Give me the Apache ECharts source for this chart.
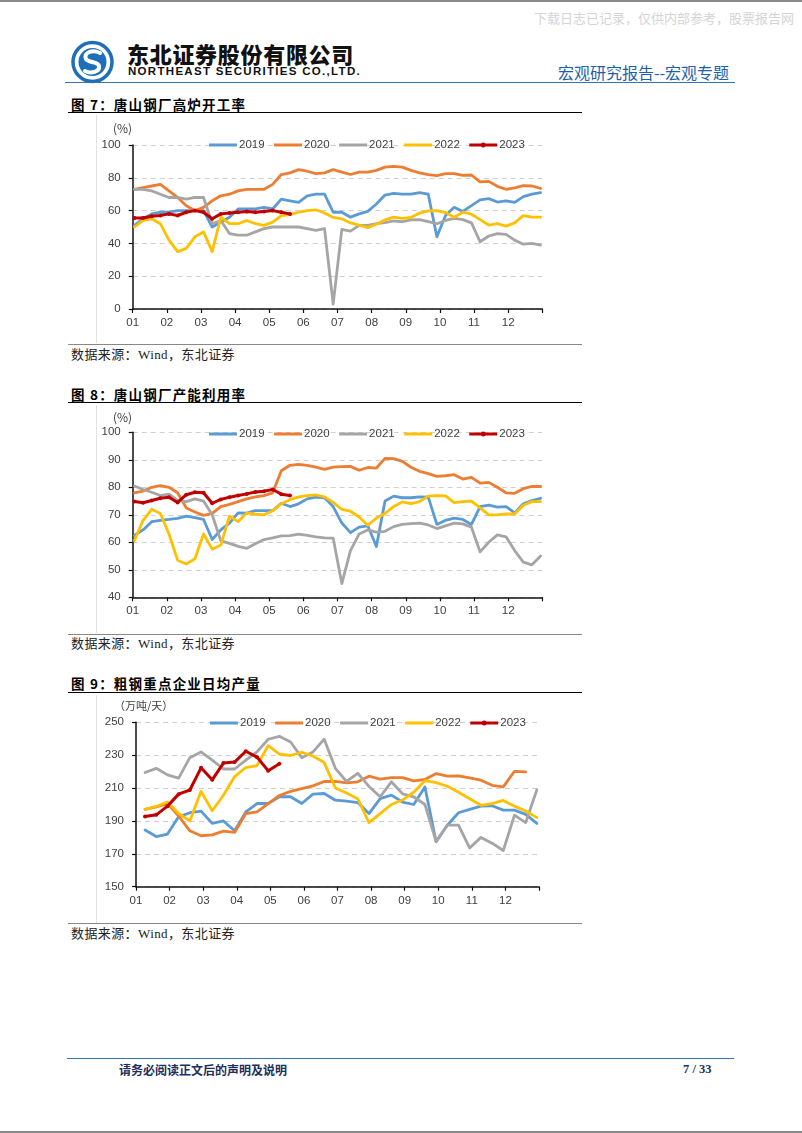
<!DOCTYPE html>
<html><head><meta charset="utf-8">
<script src="https://cdn.jsdelivr.net/npm/echarts@6/dist/echarts.min.js"></script>
<style>
html,body{margin:0;padding:0;background:#fff;}
body{width:802px;height:1133px;position:relative;overflow:hidden;font-family:"Noto Sans CJK SC","Liberation Sans",sans-serif;}
.abs{position:absolute;white-space:nowrap;}
.hline{position:absolute;height:0;}
.title{font-size:13.5px;font-weight:bold;color:#000;letter-spacing:1.2px;line-height:16px;}
.src{font-size:13px;color:#222;font-family:"Liberation Serif","Noto Sans CJK SC",serif;line-height:16px;letter-spacing:0.4px;}
.chart{position:absolute;left:0;width:802px;height:228px;}
</style></head>
<body>
<div class="hline" style="left:0;top:0;width:802px;border-top:2px solid #8a8a8a;"></div>
<div class="abs" style="left:534px;top:8px;font-size:13px;color:#d4d4d4;">下载日志已记录，仅供内部参考，股票报告网</div>
<svg class="abs" style="left:70px;top:40px;" width="46" height="46" viewBox="0 0 46 46">
  <circle cx="22.5" cy="22" r="19.5" fill="none" stroke="#1f6fb8" stroke-width="3.5"/>
  <circle cx="22.5" cy="22" r="14" fill="#1f6fb8"/>
  <path d="M30 13 C22 9,13 13,16 19 C18 23,28 21,29 26 C30 32,21 34,15 31" fill="none" stroke="#fff" stroke-width="4" stroke-linecap="round"/>
</svg>
<div class="abs" style="left:127px;top:40px;font-size:22px;font-weight:900;letter-spacing:0.7px;line-height:26px;color:#111;">东北证券股份有限公司</div>
<div class="abs" style="left:128px;top:65px;font-size:11.5px;font-weight:bold;letter-spacing:1.3px;line-height:13px;color:#111;font-family:'Liberation Sans',sans-serif;">NORTHEAST SECURITIES CO.,LTD.</div>
<div class="abs" style="left:558px;top:62px;font-size:16px;color:#1f5fa8;line-height:20px;">宏观研究报告--宏观专题</div>
<div class="hline" style="left:65px;top:82px;width:670px;border-top:1.5px solid #2e75b6;"></div>

<div class="abs title" style="left:71px;top:96px;">图 7：唐山钢厂高炉开工率</div>
<div class="hline" style="left:68px;top:112px;width:514px;border-top:1.5px solid #000;"></div>
<div class="abs" style="left:96px;top:115px;width:0;height:228px;border-left:1px solid #e2e2e2;"></div>
<div id="c1" class="chart" style="top:115px;"></div>
<div class="hline" style="left:68px;top:344px;width:514px;border-top:1px solid #888;"></div>
<div class="abs src" style="left:71px;top:347px;">数据来源：Wind，东北证券</div>

<div class="abs title" style="left:71px;top:386px;">图 8：唐山钢厂产能利用率</div>
<div class="hline" style="left:68px;top:402px;width:514px;border-top:1.5px solid #000;"></div>
<div class="abs" style="left:96px;top:405px;width:0;height:228px;border-left:1px solid #e2e2e2;"></div>
<div id="c2" class="chart" style="top:405px;"></div>
<div class="hline" style="left:68px;top:634px;width:514px;border-top:1px solid #888;"></div>
<div class="abs src" style="left:71px;top:636px;">数据来源：Wind，东北证券</div>

<div class="abs title" style="left:71px;top:675px;">图 9：粗钢重点企业日均产量</div>
<div class="hline" style="left:68px;top:692px;width:514px;border-top:1.5px solid #000;"></div>
<div class="abs" style="left:96px;top:695px;width:0;height:228px;border-left:1px solid #e2e2e2;"></div>
<div id="c3" class="chart" style="top:695px;"></div>
<div class="hline" style="left:68px;top:923px;width:514px;border-top:1px solid #888;"></div>
<div class="abs src" style="left:71px;top:926px;">数据来源：Wind，东北证券</div>

<div class="hline" style="left:67px;top:1058px;width:667px;border-top:1.5px solid #2e75b6;"></div>
<div class="abs" style="left:119px;top:1062px;font-size:12px;font-weight:bold;color:#1d2f5c;line-height:15px;">请务必阅读正文后的声明及说明</div>
<div class="abs" style="left:683px;top:1062px;font-size:12.5px;font-weight:bold;color:#1d2f5c;line-height:15px;font-family:'Liberation Serif',serif;">7 / 33</div>
<div class="hline" style="left:0;top:1131px;width:802px;border-top:2px solid #8a8a8a;"></div>

<script>
// ---------- data ----------
const monthLabels = ['01','02','03','04','05','06','07','08','09','10','11','12'];
const yearNames = ['2019','2020','2021','2022','2023'];

// Chart 7: Tangshan blast furnace operating rate (%), weekly
const c1_2019 = [51,55,58,59,59,60,60,60,60,50, 53,56,61,61,61,62,61,67,66,65, 69,70,70,59,59,56,58,59.5,64,69.5, 70.5,70,70,71,70,44,57,62,59.5,63, 66.5,67.3,65.2,66,65,68.5,70,71];
const c1_2020 = [73,74,75,76,72,68,63,60,62,66, 69,70,72,73,73,73,76,82,83,85, 84,82.5,83,85,83.5,82,83.5,83.5,84.5,86.5, 87,86.5,84.5,83,82,81.3,82.5,82.5,81.5,81.7, 77.5,77.8,74.8,73,73.8,75.2,75,73.5];
const c1_2021 = [73,73,72,70,68,68,67,68,68,52, 54,46,45,45,47,49,50,50,50,50, 49,48,49,3,48.5,47.5,51,51,52,52.7, 53.7,53.2,54.3,54.5,53.3,52,54,55.3,54.5,52.5, 41,44.5,46,45.5,42,39.5,40,39];
const c1_2022 = [50,54,55,52,42,35,37,44,47,35, 56,52,52,54,52,51,53,57,57.5,59, 60,60.5,58.5,55.8,55,52.5,51.2,49.6,51.7,54.3, 56,55.3,55.8,58.5,59.8,60,58.8,56,59,57.8, 54.5,51.2,52,50.5,52.5,57,56,56];
const c1_2023 = [55.5,55.5,56.5,57,58,57,59,60,59,55,58,58.5,59,59.5,59,59.5,60,59,58];

// Chart 8: Tangshan capacity utilization (%), weekly
const c2_2019 = [62.5,64.5,67.5,68,68.3,68.7,69.5,69,68.3,61, 64.5,67,70.7,70.6,71.5,71.5,71.5,74.2,73,74, 75.8,76.4,76.2,73,67,63.5,65.5,66,58.5,75, 76.8,76.2,76.2,76.5,76.4,66.5,68,68.8,68.3,66.5, 73,73.5,72.8,73,70.7,74,75.2,76];
const c2_2020 = [78,78.6,80,80.6,80,78,72.5,71,69.8,70.5, 73,73.8,74.8,75.8,76.5,77,78,86,88,88.3, 88,87.3,86.5,87.3,87.5,87.6,86.2,87.2,87,90.5, 90.4,89.4,87.3,85.8,85,84,84.2,84.6,83,83.6, 81.5,81.8,80,78,77.8,79.5,80.3,80.3];
const c2_2021 = [80.5,79.2,78.2,77,77.5,75.2,74.8,75.8,75,70, 60.5,59.6,58.5,57.8,59.5,61,61.6,62.3,62.4,63, 62.5,62,61.6,61.5,45,57,63,64.5,63.7,64, 65.7,66.5,66.8,67,66.3,65,66,67,66.7,65.5, 56.5,60,62.7,62,57,52.8,51.8,55];
const c2_2022 = [60.6,68,72,70.5,63,53.5,52.1,54,63,57.5, 59,69.5,67.5,70.7,70.2,70,71.5,74,75.5,76.5, 77,77.2,76.5,74.5,72,71.3,69.2,66.2,68.8,70.5, 73,74.7,74.1,74.8,76.8,77,76.9,74.4,74.8,75, 72.5,70,70,70.3,70.3,73.5,74.8,74.8];
const c2_2023 = [74.8,74.4,75.2,76,76.4,74.5,77.3,78.2,78,74.2,75.6,76.4,77,77.6,78.3,78.6,79.2,77.5,77];

// Chart 9: crude steel daily output of key enterprises (10k t/day), ten-day
const c3_2019 = [184.5,180.5,182,192.5,195,196,188.5,190,184,195.5,200.6,200.6,204.7,204.7,200.6,206.3,206.7,202.6, 202,201.2,194.5,203.6,205.7,201.5,200,210.7,177.3,187.4,195,197,199,199.2,196.6,196.6,194,188.5];
const c3_2020 = [197,198.5,200.5,193,184,181,181.5,183.8,183,194.5,195.5,200.6,205.5,208,209.7,211.3,214,214, 213.2,213.8,217.2,215.4,216.4,216.4,214.4,215.2,218.8,217.2,217.4,216.2,214.8,211.7,210.7,220.2,219.8,null];
const c3_2021 = [219.5,222,218,216,228.5,232,227,221.6,221.6,227,232,239.7,241.5,238,228.5,232,239.7,222, 214,219,211,204.7,213.8,206.5,204.7,200,177.5,187.4,187.4,173.5,180,176.5,172,193.5,189,209];
const c3_2022 = [197,198.8,201.5,194.5,190,208,196.2,205.6,217,222.5,223.7,235.8,230.7,229.8,231.8,229.5,225.5,210, 207,203.5,189,194.5,200,202.7,207.5,214.5,213.3,211.1,207.5,203.5,199.5,200.5,202.5,199,196,192];
const c3_2023 = [192.7,193.7,199,206.3,208.8,222.3,215,225.2,225.8,232.4,228.8,220.5,224.8];

// ---------- helpers ----------
const COLORS = ['#5b9bd5','#ed7d31','#a5a5a5','#ffc000','#c00000'];
const weekX = i => 0.05 + i * 11.9 / 47;   // position within year (months) of weekly obs
const tenX  = j => 0.27 + j / 3;           // position within year of ten-day obs
const FONT = '"Liberation Sans", Arial, sans-serif';

// legend icons: plain line for 2019-2022, line with dot for 2023 (tiny specks fix the box height)
const BOX = 'M0,0H0.01V0.01H0Z M0,10H0.01V10.01H0Z ';
const ICON_LINE = 'path://' + BOX + 'M0,3.5H28V6.5H0Z';
const ICON_DOT = 'path://' + BOX + 'M0,3.5H28V6.5H0Z M11.5,5A2.5,2.5 0 1 1 16.5,5A2.5,2.5 0 1 1 11.5,5Z';

function series(arrs, xf) {
  return arrs.map((arr, k) => {
    const red = k === 4;
    return {
      name: yearNames[k], type: 'line',
      data: arr.map((v, i) => [xf(i), v]),
      symbol: red ? 'circle' : 'none', symbolSize: red ? 4 : 0, showSymbol: red,
      lineStyle: { color: COLORS[k], width: red ? 3 : 2.8, join: 'round', cap: 'round' },
      itemStyle: { color: COLORS[k] },
      connectNulls: false, animation: false, z: 2 + k
    };
  });
}

function makeOption(cfg) {
  return {
    animation: false,
    grid: { left: cfg.left, top: cfg.top, width: cfg.width, height: cfg.height, containLabel: false },
    legend: {
      left: cfg.legLeft, top: cfg.legTop, itemWidth: 28, itemHeight: 10, itemGap: 9.5,
      data: yearNames.map((n, k) => ({ name: n, icon: k === 4 ? ICON_DOT : ICON_LINE })),
      textStyle: { fontFamily: FONT, fontSize: 11.5, color: '#404040', padding: [0,0,0,-3] }
    },
    graphic: [{
      type: 'text', left: cfg.unitLeft, top: cfg.unitTop,
      style: { text: cfg.unit, font: cfg.unitFont, fill: '#404040' }
    }],
    xAxis: {
      type: 'value', min: 0, max: 12, interval: 1,
      axisLine: { show: true, lineStyle: { color: '#111', width: 1.5 } },
      axisTick: { show: true, length: 4, lineStyle: { color: '#111', width: 1.2 } },
      axisLabel: { fontFamily: FONT, fontSize: 11.5, color: '#404040', margin: 8,
        formatter: v => monthLabels[Math.round(v)] || '' },
      splitLine: { show: false }
    },
    yAxis: {
      type: 'value', min: cfg.ymin, max: cfg.ymax, interval: cfg.yint,
      axisLine: { show: true, lineStyle: { color: '#111', width: 1.5 } },
      axisTick: { show: true, length: 4, lineStyle: { color: '#111', width: 1.2 } },
      axisLabel: { fontFamily: FONT, fontSize: 11.5, color: '#404040', margin: 12 },
      splitLine: { show: true, lineStyle: { color: '#d0d0d0', width: 1, type: [5, 4] } }
    },
    series: cfg.series
  };
}

const ch1 = echarts.init(document.getElementById('c1'), null, { renderer: 'canvas' });
ch1.setOption(makeOption({
  left: 132.7, top: 30, width: 409.6, height: 164,
  legLeft: 204, legTop: 19, ymin: 0, ymax: 100, yint: 20,
  unit: '(%)', unitLeft: 113, unitTop: 7, unitFont: '12px "Noto Sans CJK SC"',
  series: series([c1_2019, c1_2020, c1_2021, c1_2022, c1_2023], weekX)
}));

const ch2 = echarts.init(document.getElementById('c2'), null, { renderer: 'canvas' });
ch2.setOption(makeOption({
  left: 132.7, top: 27.3, width: 409.6, height: 165,
  legLeft: 204, legTop: 18, ymin: 40, ymax: 100, yint: 10,
  unit: '(%)', unitLeft: 113, unitTop: 6, unitFont: '12px "Noto Sans CJK SC"',
  series: series([c2_2019, c2_2020, c2_2021, c2_2022, c2_2023], weekX)
}));

const ch3 = echarts.init(document.getElementById('c3'), null, { renderer: 'canvas' });
ch3.setOption(makeOption({
  left: 136, top: 27.3, width: 403, height: 164.4,
  legLeft: 205, legTop: 17, ymin: 150, ymax: 250, yint: 20,
  unit: '（万吨/天）', unitLeft: 114, unitTop: 5, unitFont: '11px "Noto Sans CJK SC"',
  series: series([c3_2019, c3_2020, c3_2021, c3_2022, c3_2023], tenX)
}));
</script>
</body></html>
